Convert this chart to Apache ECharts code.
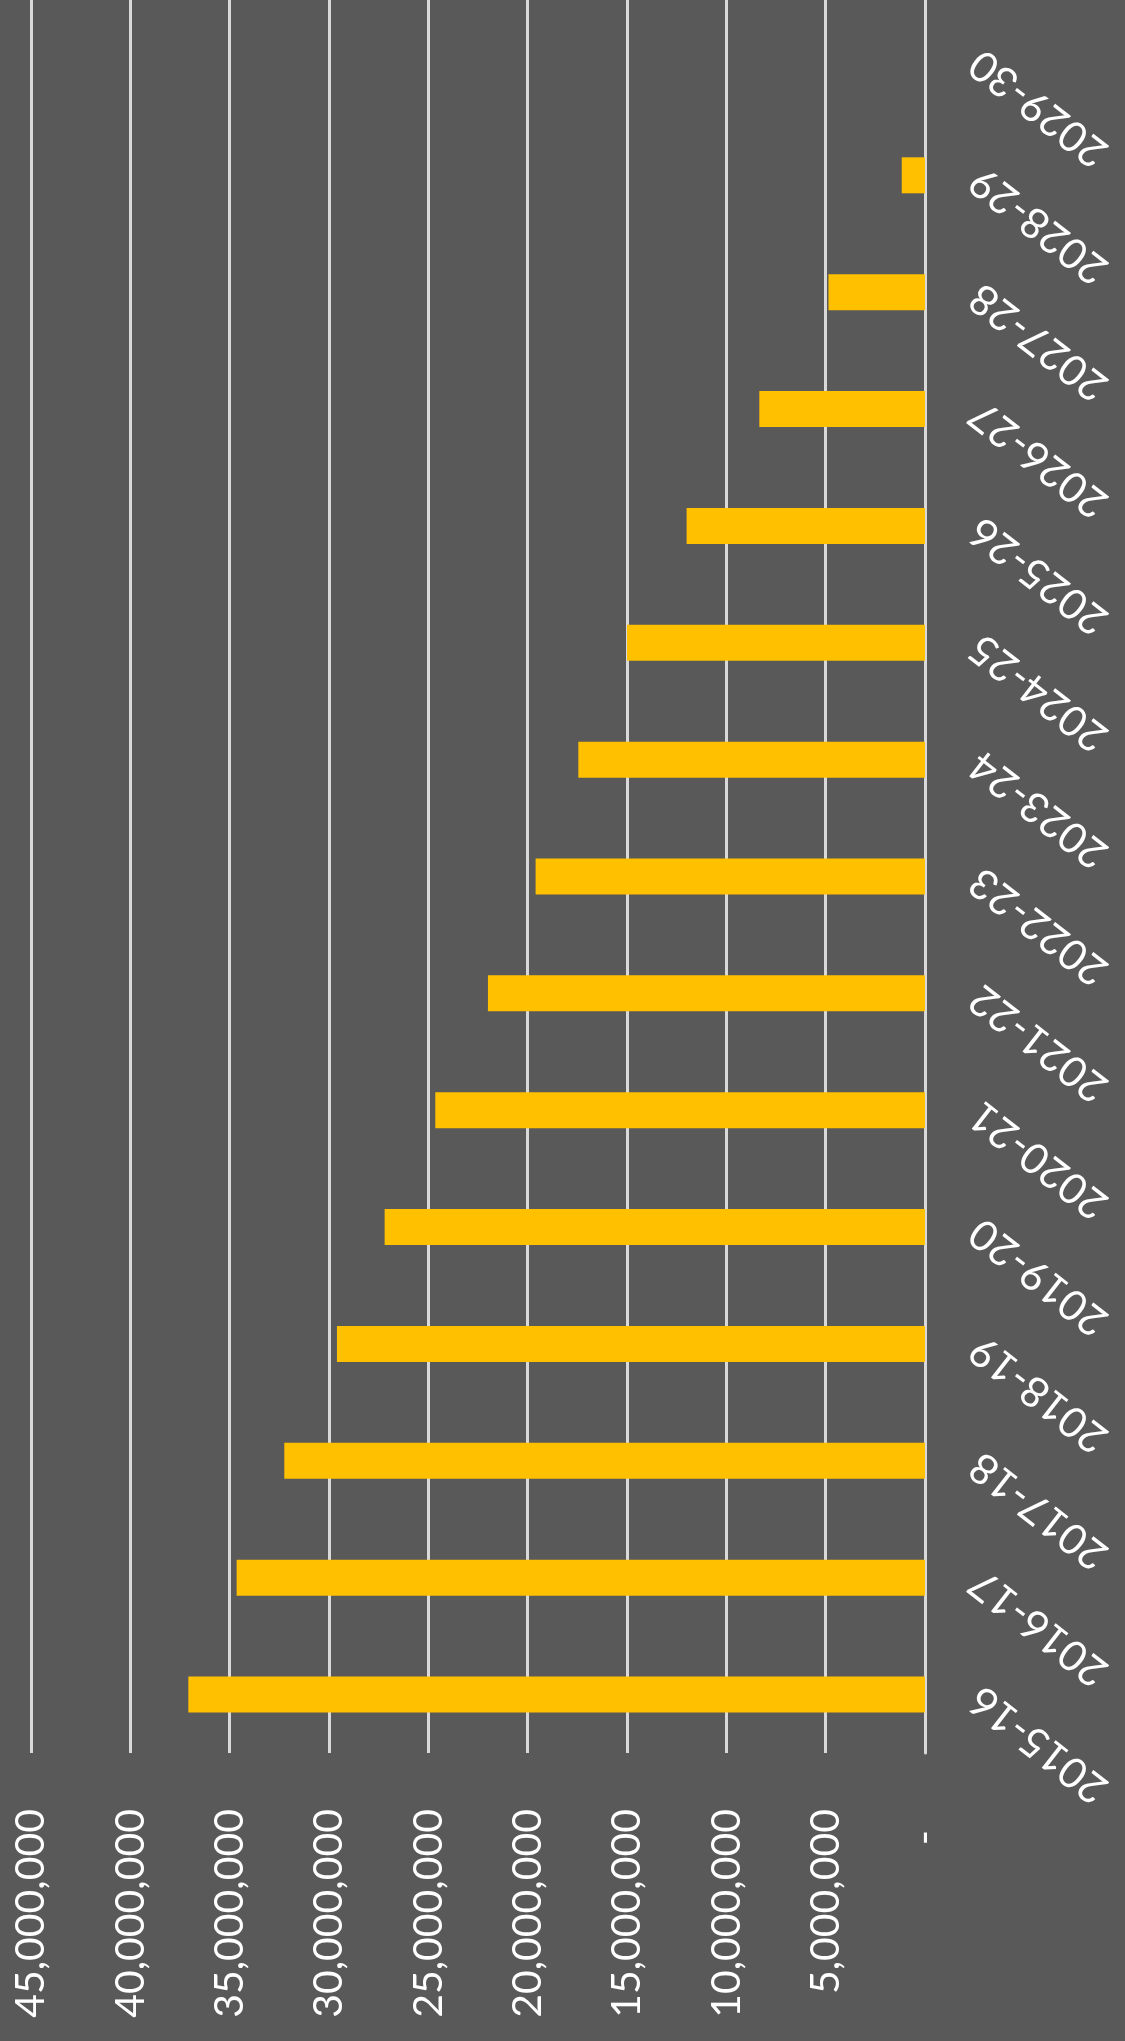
<!DOCTYPE html>
<html>
<head>
<meta charset="utf-8">
<title>Annual values 2015-16 to 2029-30</title>
<script src="https://cdn.jsdelivr.net/npm/echarts@6/dist/echarts.min.js"></script>
<style>
  html, body { margin: 0; padding: 0; background: #595959; }
  #chart { width: 1125px; height: 2041px; }
</style>
</head>
<body>
<div id="chart"></div>
<script>
// Financial years, bottom to top
const categories = [
  '2015-16', '2016-17', '2017-18', '2018-19', '2019-20',
  '2020-21', '2021-22', '2022-23', '2023-24', '2024-25',
  '2025-26', '2026-27', '2027-28', '2028-29', '2029-30'
];

// Remaining amount per year
const values = [
  37080000, 34650000, 32250000, 29600000, 27200000,
  24650000, 22000000, 19600000, 17450000, 15000000,
  12000000, 8340000, 4860000, 1170000, 0
];

// Value axis ticks
const axisMin = 0;
const axisMax = 45000000;
const axisStep = 5000000;

function formatTick(v) {
  if (v === 0) return '-  ';
  return v.toLocaleString('en-US');
}

const chart = echarts.init(document.getElementById('chart'), null, { renderer: 'canvas' });

chart.setOption({
  animation: false,
  backgroundColor: '#595959',
  grid: { left: 31, right: 200, top: 0, bottom: 288, containLabel: false },
  xAxis: {
    type: 'value',
    inverse: true,
    min: axisMin,
    max: axisMax,
    interval: axisStep,
    axisLine: { show: false },
    axisTick: { show: false },
    splitLine: { show: true, lineStyle: { color: '#d9d9d9', width: 3 } },
    axisLabel: {
      rotate: 90,
      align: 'right',
      verticalAlign: 'middle',
      margin: 56,
      color: '#ffffff',
      fontFamily: 'Lato',
      fontSize: 41,
      formatter: formatTick
    }
  },
  yAxis: {
    type: 'category',
    position: 'right',
    data: categories,
    axisLine: { show: true, lineStyle: { color: '#d9d9d9', width: 3 } },
    axisTick: { show: false },
    splitLine: { show: false },
    axisLabel: {
      interval: 0,
      rotate: 142,
      align: 'right',
      verticalAlign: 'middle',
      margin: 50,
      color: '#ffffff',
      fontFamily: 'Lato',
      fontSize: 42
    }
  },
  series: [{
    type: 'bar',
    data: values,
    barWidth: 36,
    itemStyle: { color: '#FFC000' }
  }]
});
</script>
</body>
</html>
